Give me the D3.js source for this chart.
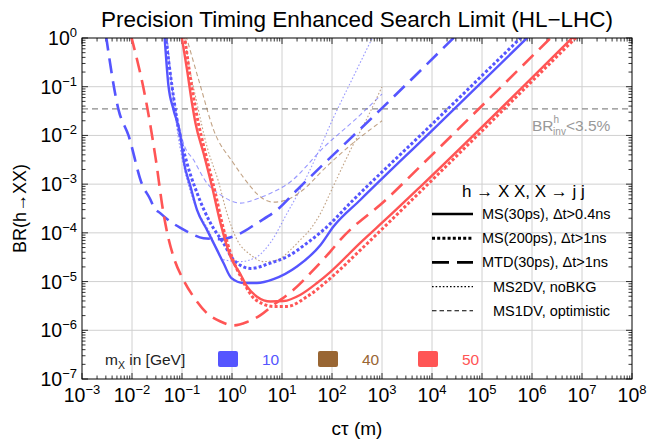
<!DOCTYPE html>
<html>
<head>
<meta charset="utf-8">
<script src="https://cdn.jsdelivr.net/npm/d3@7"></script>
<style>
    body { margin: 0; background: #fff; }
    text { font-family: "Liberation Sans", Arial, sans-serif; }
</style>
</head>
<body>
<div id="chart"></div>
<script>
// every curve is a list of [log10(c tau / m), log10(BR)]
const blueSolid = [[-1.35,0.05],[-1.27,-0.99],[-1.17,-1.47],[-1.03,-2.02],[-0.97,-2.5],[-0.83,-3.05],[-0.70,-3.53],
    [-0.50,-3.94],[-0.30,-4.35],[-0.17,-4.62],[-0.01,-4.93],[0.23,-5.03],[0.50,-5.03],[0.83,-4.95],[1.30,-4.69],
    [1.77,-4.25],[2.03,-3.87],[2.57,-3.32],[4.0,-1.9],[5.95,0.05]];
const blueDotted = [[-1.33,0.05],[-1.2,-0.99],[-1.1,-1.68],[-0.9,-2.57],[-0.7,-3.18],[-0.43,-3.8],[-0.17,-4.21],
    [0.03,-4.55],[0.37,-4.73],[0.77,-4.62],[1.1,-4.49],[1.5,-4.21],[1.83,-3.94],[2.43,-3.32],[4.0,-1.77],[5.82,0.05]];
const blueDashed = [[-2.52,0.05],[-2.27,-1.47],[-2.07,-2.0],[-1.8,-3.0],[-1.63,-3.32],[-1.57,-3.46],[-1.43,-3.6],
    [-1.23,-3.77],[-1.03,-3.9],[-0.83,-4.01],[-0.57,-4.11],[-0.23,-4.13],[0.17,-4.01],[0.5,-3.8],[0.9,-3.53],
    [1.3,-3.12],[3.0,-1.44],[4.48,0.05]];
const blueNoBkg = [[-1.3,0.05],[-1.2,-1.0],[-1.08,-2.0],[-0.95,-2.7],[-0.75,-3.4],[-0.47,-3.94],[-0.17,-4.55],
    [0.17,-4.59],[0.5,-4.49],[0.77,-4.2],[1.1,-3.6],[1.37,-3.1],[1.7,-2.4],[2.0,-1.7],[2.4,-0.85],[2.83,0.05]];
const blueOptimistic = [[-1.3,0.05],[-1.2,-1.0],[-1.08,-1.7],[-0.97,-2.16],[-0.77,-2.5],[-0.5,-2.98],[-0.23,-3.22],
    [0.17,-3.39],[0.5,-3.3],[0.7,-3.22],[1.17,-2.95],[1.83,-2.25],[2.5,-1.64],[3.0,-1.15]];
const brownNoBkg = [[-0.95,0.05],[-0.9,-0.31],[-0.7,-1.34],[-0.5,-2.23],[-0.27,-2.95],[-0.1,-3.6],[0.1,-4.14],
    [0.37,-4.45],[0.63,-4.59],[0.9,-4.56],[1.17,-4.35],[1.37,-4.14],[1.57,-3.92],[1.77,-3.6],[2.0,-3.1],
    [2.37,-2.3],[2.7,-1.65],[3.0,-1.0]];
const brownOptimistic = [[-0.92,0.05],[-0.63,-0.99],[-0.37,-1.88],[0.03,-2.57],[0.37,-3.05],[0.5,-3.2],[0.83,-3.37],
    [1.17,-3.29],[1.43,-3.11],[1.83,-2.7],[2.37,-2.2],[3.0,-1.7]];
const redSolid = [[-1.01,0.05],[-0.9,-0.65],[-0.8,-1.34],[-0.73,-1.75],[-0.57,-2.36],[-0.4,-3.05],[-0.23,-3.8],
    [-0.03,-4.49],[0.17,-4.85],[0.3,-5.1],[0.5,-5.31],[0.77,-5.41],[1.03,-5.4],[1.37,-5.27],[1.7,-5.03],
    [1.97,-4.8],[2.57,-4.2],[3.1,-3.7],[3.77,-3.05],[6.85,0.05]];
const redDotted = [[-0.95,0.05],[-0.85,-0.7],[-0.72,-1.5],[-0.5,-2.5],[-0.33,-3.2],[-0.2,-3.8],[0.0,-4.5],
    [0.2,-4.95],[0.4,-5.3],[0.6,-5.45],[0.83,-5.51],[1.1,-5.51],[1.5,-5.31],[1.97,-4.93],[2.57,-4.35],
    [3.77,-3.15],[6.92,0.05]];
const redDashed = [[-2.02,0.05],[-1.7,-1.4],[-1.53,-2.45],[-1.37,-3.6],[-1.3,-3.98],[-1.17,-4.49],[-0.97,-4.97],
    [-0.77,-5.31],[-0.5,-5.65],[-0.23,-5.82],[0.03,-5.9],[0.3,-5.83],[0.57,-5.69],[0.83,-5.48],[1.23,-5.17],
    [1.63,-4.76],[1.97,-4.38],[2.17,-4.14],[3.1,-3.3],[3.83,-2.57],[6.42,0.05]];

const invisibleLimit = 0.035;

const xTickExps = [-3, -2, -1, 0, 1, 2, 3, 4, 5, 6, 7, 8];
const yTickExps = [-7, -6, -5, -4, -3, -2, -1, 0];

const styleLabels = ["MS(30ps), \u0394t>0.4ns", "MS(200ps), \u0394t>1ns", "MTD(30ps), \u0394t>1ns",
    "MS2DV, noBKG", "MS1DV, optimistic"];
const massLabels = ["10", "40", "50"];

const blue = "#5555ff", brown = "#996633", red = "#ff5555";

// line styles: thick solid, thick dotted, long dash, thin dotted, thin dashed
const styles = [
    { w: 2.4, dash: null, op: 1 },
    { w: 3, dash: "3,2.2", op: 1 },
    { w: 2.6, dash: "15,8", op: 1 },
    { w: 1.1, dash: "1.6,2", op: 0.6 },
    { w: 1.1, dash: "4.5,3", op: 0.6 }
];

const curves = [
    { data: blueNoBkg, color: blue, s: 3 },
    { data: blueOptimistic, color: blue, s: 4 },
    { data: brownNoBkg, color: brown, s: 3 },
    { data: brownOptimistic, color: brown, s: 4 },
    { data: blueDashed, color: blue, s: 2 },
    { data: blueDotted, color: blue, s: 1 },
    { data: blueSolid, color: blue, s: 0 },
    { data: redDashed, color: red, s: 2 },
    { data: redDotted, color: red, s: 1 },
    { data: redSolid, color: red, s: 0 }
];

const margin = { top: 38, right: 16, bottom: 64, left: 82 };
const width = 648 - margin.left - margin.right;
const height = 443 - margin.top - margin.bottom;

const svg = d3.select("#chart").append("svg")
    .attr("width", 648)
    .attr("height", 443);

const g = svg.append("g")
    .attr("transform", `translate(${margin.left},${margin.top})`);

const x = d3.scaleLog().domain([1e-3, 1e8]).range([0, width]);
const y = d3.scaleLog().domain([1e-7, 1]).range([height, 0]);

// grid
g.selectAll(".gx").data(xTickExps.slice(1, -1)).enter().append("line")
    .attr("x1", d => x(10 ** d)).attr("x2", d => x(10 ** d))
    .attr("y1", 0).attr("y2", height)
    .attr("stroke", "#d0d0d0").attr("stroke-width", 1);
g.selectAll(".gy").data(yTickExps.slice(1, -1)).enter().append("line")
    .attr("y1", d => y(10 ** d)).attr("y2", d => y(10 ** d))
    .attr("x1", 0).attr("x2", width)
    .attr("stroke", "#d0d0d0").attr("stroke-width", 1);

// ticks on all four sides, pointing inward
let xTicks = [], yTicks = [];
xTickExps.forEach(e => d3.range(1, 10).forEach(k => { if (e < 8 || k === 1) xTicks.push({ v: k * 10 ** e, major: k === 1 }); }));
yTickExps.forEach(e => d3.range(1, 10).forEach(k => { if (e < 0 || k === 1) yTicks.push({ v: k * 10 ** e, major: k === 1 }); }));

const tickG = g.append("g").attr("stroke", "#000").attr("stroke-width", 0.8);
xTicks.forEach(t => {
    const len = t.major ? 6 : 3.5;
    tickG.append("line").attr("x1", x(t.v)).attr("x2", x(t.v)).attr("y1", height).attr("y2", height - len);
    tickG.append("line").attr("x1", x(t.v)).attr("x2", x(t.v)).attr("y1", 0).attr("y2", len);
});
yTicks.forEach(t => {
    const len = t.major ? 6 : 3.5;
    tickG.append("line").attr("y1", y(t.v)).attr("y2", y(t.v)).attr("x1", 0).attr("x2", len);
    tickG.append("line").attr("y1", y(t.v)).attr("y2", y(t.v)).attr("x1", width).attr("x2", width - len);
});

// BR_inv limit
g.append("line")
    .attr("x1", 0).attr("x2", width)
    .attr("y1", y(invisibleLimit)).attr("y2", y(invisibleLimit))
    .attr("stroke", "#8a8a8a").attr("stroke-width", 1.4)
    .attr("stroke-dasharray", "6,4");

const lbl = g.append("text")
    .attr("x", 450).attr("y", 93)
    .attr("font-size", 15.5).attr("fill", "#999");
lbl.append("tspan").text("BR");
lbl.append("tspan").attr("dy", -8).attr("font-size", 10).text("h");
lbl.append("tspan").attr("dx", -6).attr("dy", 12).attr("font-size", 10).text("inv");
lbl.append("tspan").attr("dy", -4).text("<3.5%");

// curves
g.append("clipPath").attr("id", "clip")
    .append("rect").attr("width", width).attr("height", height);

const line = d3.line()
    .x(d => x(10 ** d[0]))
    .y(d => y(10 ** d[1]))
    .curve(d3.curveMonotoneX);

g.append("g").attr("clip-path", "url(#clip)")
    .selectAll("path").data(curves).enter().append("path")
    .attr("d", d => line(d.data))
    .attr("fill", "none")
    .attr("stroke", d => d.color)
    .attr("stroke-opacity", d => styles[d.s].op)
    .attr("stroke-width", d => styles[d.s].w)
    .attr("stroke-dasharray", d => styles[d.s].dash);

// frame
g.append("rect").attr("width", width).attr("height", height)
    .attr("fill", "none").attr("stroke", "#000").attr("stroke-width", 1);

// tick labels
function powLabel(sel, e) {
    sel.append("tspan").text("10");
    sel.append("tspan").attr("dy", -8).attr("font-size", 13).text(e < 0 ? "\u2212" + (-e) : e);
}

g.selectAll(".xl").data(xTickExps).enter().append("text")
    .attr("x", d => x(10 ** d)).attr("y", height + 23)
    .attr("text-anchor", "middle").attr("font-size", 19.5)
    .each(function (d) { powLabel(d3.select(this), d); });

g.selectAll(".yl").data(yTickExps).enter().append("text")
    .attr("x", -5).attr("y", d => y(10 ** d) + 7)
    .attr("text-anchor", "end").attr("font-size", 19.5)
    .each(function (d) { powLabel(d3.select(this), d); });

// axis titles
svg.append("text")
    .attr("x", margin.left + width / 2).attr("y", 435)
    .attr("text-anchor", "middle").attr("font-size", 19)
    .text("c\u03c4 (m)");

svg.append("text")
    .attr("transform", `translate(26,${margin.top + height / 2}) rotate(-90)`)
    .attr("text-anchor", "middle").attr("font-size", 18)
    .text("BR(h\u2192XX)");

svg.append("text")
    .attr("x", 357).attr("y", 27)
    .attr("text-anchor", "middle").attr("font-size", 22.5)
    .text("Precision Timing Enhanced Search Limit (HL\u2212LHC)");

// style legend
g.append("text")
    .attr("x", 380).attr("y", 159)
    .attr("font-size", 17)
    .text("h \u2192 X X, X \u2192 j j");

const legG = g.append("g").attr("transform", "translate(350,176)");
styleLabels.forEach((t, i) => {
    const st = styles[i];
    legG.append("line")
        .attr("x1", 0).attr("x2", 41).attr("y1", i * 24.2).attr("y2", i * 24.2)
        .attr("stroke", "#000").attr("stroke-width", st.w)
        .attr("stroke-dasharray", i === 2 ? "17,8" : st.dash);
    legG.append("text")
        .attr("x", i < 3 ? 50 : 61).attr("y", i * 24.2 + 5)
        .attr("font-size", 14.5)
        .text(t);
});

// mass legend
const mass = g.append("text")
    .attr("x", 23).attr("y", 327).attr("font-size", 15.5).attr("fill", "#222");
mass.append("tspan").text("m");
mass.append("tspan").attr("dy", 4).attr("font-size", 10.5).text("X");
mass.append("tspan").attr("dy", -4).text(" in [GeV]");

const massColors = [blue, brown, red];
massLabels.forEach((m, i) => {
    g.append("rect")
        .attr("x", 136 + i * 100).attr("y", 313).attr("width", 20).attr("height", 16)
        .attr("rx", 2).attr("fill", massColors[i]);
    g.append("text")
        .attr("x", 180 + i * 100).attr("y", 327).attr("font-size", 15.5)
        .attr("fill", massColors[i])
        .text(m);
});
</script>
</body>
</html>
